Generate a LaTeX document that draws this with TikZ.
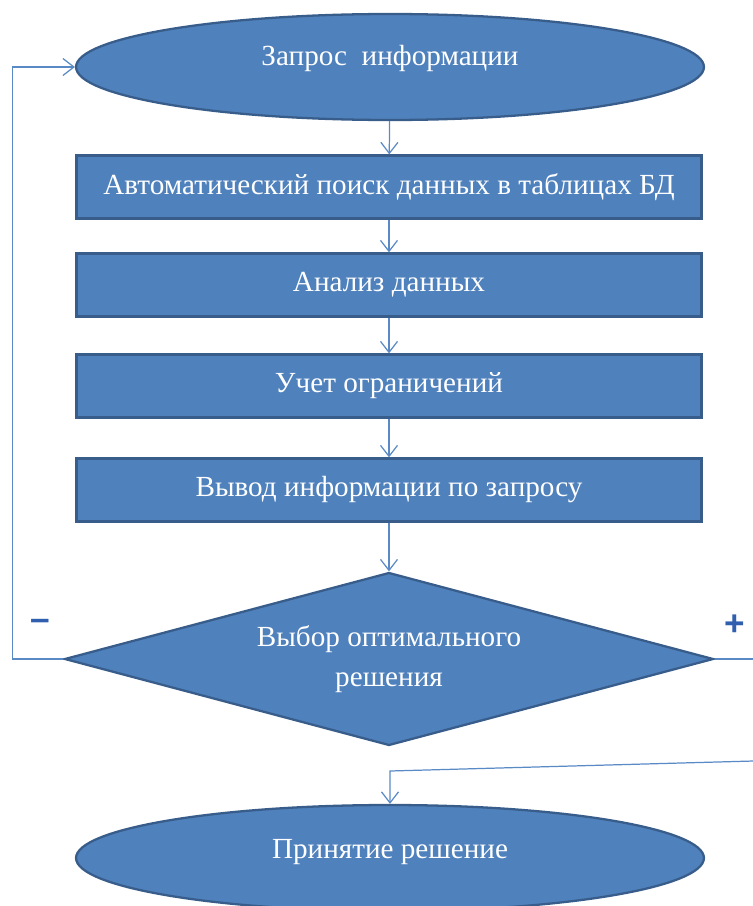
\documentclass[tikz,border=0pt]{standalone}
\usepackage{fontspec}
\setmainfont{Liberation Serif}
\newfontfamily\signfont{Liberation Sans}
\usetikzlibrary{shapes.geometric, arrows.meta}
\definecolor{boxblue}{HTML}{4F81BD}
\definecolor{edgeblue}{HTML}{385D8A}
\definecolor{lineblue}{HTML}{5A8AC6}
\definecolor{signblue}{HTML}{2F5FAE}

\begin{document}
\begin{tikzpicture}[x=0.02cm, y=-0.02cm,
	block/.style={draw=edgeblue, line width=1.3pt, fill=boxblue, text=white, font=\fontsize{16.6}{22.5}\selectfont},
	oval/.style={block, ellipse, inner sep=0pt, minimum width=12.56cm, minimum height=2.12cm},
	stepbox/.style={block, rectangle, minimum width=12.5cm, minimum height=1.26cm},
	choice/.style={block, diamond, aspect=3.75, inner sep=0pt, minimum width=12.98cm, minimum height=3.46cm, align=center},
	link/.style={draw=lineblue, line width=0.7pt, -{Straight Barb[length=2.2mm, width=3.4mm]}},
	sign/.style={text=signblue, font=\signfont\bfseries\fontsize{20}{20}\selectfont}]
	\path[use as bounding box, clip](0, 0) rectangle (753, 906);
	\node[oval, label={[text=white, font=\fontsize{16.6}{20}\selectfont, yshift=0.18cm]center:Запрос\ \ информации}](ask) at (390, 67){};
	\node[stepbox](find) at (389, 187){Автоматический поиск данных в таблицах БД};
	\node[stepbox](anal) at (389, 285){Анализ данных};
	\node[stepbox](lim) at (389, 386){Учет ограничений};
	\node[stepbox](out) at (389, 490){Вывод информации по запросу};
	\node[choice](pick) at (389, 659){Выбор оптимального\\решения};
	\node[oval, label={[text=white, font=\fontsize{16.6}{20}\selectfont, yshift=0.12cm]center:Принятие решение}](done) at (390, 858){};
	\node[sign](minus) at (40, 625){–};
	\node[sign](plus) at (735, 625){+};
	\coordinate (exit) at (790, 659);
	\coordinate (back) at (790, 760);
	\coordinate (turn) at (390, 771);
	\draw[link](ask) -- (find);
	\draw[link](find) -- (anal);
	\draw[link](anal) -- (lim);
	\draw[link](lim) -- (out);
	\draw[link](out) -- (pick);
	\draw[link](pick.west) -- ++(-51, 0) |- (ask.west);
	\draw[draw=lineblue, line width=0.7pt](pick.east) -- (exit);
	\draw[link](back) -- (turn) -- (done.north);
\end{tikzpicture}
\end{document}
